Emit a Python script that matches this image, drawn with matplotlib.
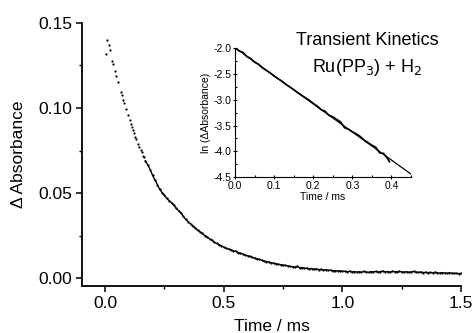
import matplotlib
matplotlib.use("Agg")
import matplotlib.pyplot as plt
from matplotlib.ticker import MultipleLocator

plt.rcParams['font.family'] = ['Liberation Sans', 'DejaVu Sans']

# ---- main trace: early discrete points (time in ms, delta absorbance)
t_early = [0.004, 0.010, 0.017, 0.022, 0.031, 0.034, 0.042, 0.048, 0.056, 0.066,
           0.070, 0.075, 0.080, 0.088, 0.097, 0.104, 0.108, 0.113, 0.118, 0.123,
           0.128, 0.132, 0.138, 0.144, 0.150, 0.154, 0.160, 0.163]
a_early = [0.132, 0.140, 0.137, 0.134, 0.1276, 0.126, 0.122, 0.119, 0.115, 0.1096,
           0.1076, 0.105, 0.1027, 0.0992, 0.0959, 0.093, 0.0905, 0.0886, 0.087, 0.0851,
           0.083, 0.0816, 0.079, 0.0772, 0.0755, 0.0743, 0.0718, 0.0714]

# ---- main trace: later part, readings every 0.01 ms from 0.17 to 1.50
t_late = [round(0.17 + 0.01 * i, 2) for i in range(134)]
a_late = [0.0690, 0.0665, 0.0638, 0.0605, 0.0578, 0.0550, 0.0522, 0.0503, 0.0487, 0.0468,
          0.0455, 0.0442, 0.0428, 0.0410, 0.0396, 0.0383, 0.0362, 0.0345, 0.0332, 0.0318,
          0.0304, 0.0296, 0.0281, 0.0272, 0.0263, 0.0250, 0.0242, 0.0230, 0.0224, 0.0210,
          0.0204, 0.0196, 0.0190, 0.0181, 0.0176, 0.0170, 0.0167, 0.0160, 0.0158, 0.0150,
          0.0146, 0.0140, 0.0136, 0.0131, 0.0127, 0.0121, 0.0118, 0.0112, 0.0110, 0.0105,
          0.0100, 0.0097, 0.0094, 0.0090, 0.0087, 0.0084, 0.0081, 0.0079, 0.0076, 0.0074,
          0.0072, 0.0068, 0.0067, 0.0064, 0.0069, 0.0060, 0.0062, 0.0057, 0.0058, 0.0054,
          0.0056, 0.0052, 0.0054, 0.0050, 0.0051, 0.0047, 0.0049, 0.0045, 0.0046, 0.0043,
          0.0044, 0.0041, 0.0043, 0.0039, 0.0040, 0.0037, 0.0040, 0.0036, 0.0038, 0.0035,
          0.0037, 0.0034, 0.0039, 0.0036, 0.0033, 0.0038, 0.0036, 0.0039, 0.0035, 0.0038,
          0.0041, 0.0036, 0.0038, 0.0035, 0.0040, 0.0037, 0.0036, 0.0039, 0.0036, 0.0035,
          0.0037, 0.0034, 0.0036, 0.0039, 0.0035, 0.0033, 0.0036, 0.0032, 0.0034, 0.0031,
          0.0033, 0.0030, 0.0034, 0.0031, 0.0029, 0.0032, 0.0030, 0.0028, 0.0031, 0.0029,
          0.0027, 0.0028, 0.0026, 0.0028]

# ---- inset: ln(delta absorbance) vs time, and the linear fit
t_ln = [0.00, 0.01, 0.02, 0.03, 0.04, 0.05, 0.06, 0.07, 0.08, 0.09,
        0.10, 0.11, 0.12, 0.13, 0.14, 0.15, 0.16, 0.17, 0.18, 0.19,
        0.20, 0.21, 0.22, 0.23, 0.24, 0.25, 0.26, 0.27, 0.28, 0.29,
        0.30, 0.31, 0.32, 0.33, 0.34, 0.35, 0.36, 0.37, 0.38, 0.39, 0.395]
ln_a = [-1.99, -2.05, -2.08, -2.16, -2.20, -2.27, -2.31, -2.38, -2.43, -2.48,
        -2.54, -2.59, -2.64, -2.70, -2.75, -2.80, -2.86, -2.91, -2.96, -3.01,
        -3.07, -3.12, -3.19, -3.22, -3.30, -3.33, -3.38, -3.43, -3.54, -3.57,
        -3.62, -3.66, -3.71, -3.78, -3.83, -3.88, -3.92, -4.03, -4.04, -4.14, -4.20]
fit_t = [0.0, 0.45]
fit_ln = [-1.99, -4.44]

main_xticks = [0.0, 0.5, 1.0, 1.5]
main_yticks = [0.00, 0.05, 0.10, 0.15]
inset_xticks = [0.0, 0.1, 0.2, 0.3, 0.4]
inset_yticks = [-2.0, -2.5, -3.0, -3.5, -4.0, -4.5]

fig = plt.figure(figsize=(4.74, 3.33), dpi=100)
ax = fig.add_axes([0.173, 0.141, 0.800, 0.790])
ax.plot(t_early, a_early, 'o', color='black', markersize=1.6, markeredgewidth=0)
ax.plot(t_late, a_late, '-', color='black', linewidth=1.0)
ax.plot(t_late, a_late, 'o', color='black', markersize=1.6, markeredgewidth=0)
ax.set_xlim(-0.097, 1.5)
ax.set_ylim(-0.0047, 0.15)
ax.set_xticks(main_xticks)
ax.set_xticklabels([f"{v:.1f}" for v in main_xticks])
ax.set_yticks(main_yticks)
ax.set_yticklabels([f"{v:.2f}" for v in main_yticks])
ax.xaxis.set_minor_locator(MultipleLocator(0.25))
ax.yaxis.set_minor_locator(MultipleLocator(0.025))
for s in ['top', 'right']:
    ax.spines[s].set_visible(False)
for s in ['left', 'bottom']:
    ax.spines[s].set_linewidth(1.3)
ax.tick_params(which='major', direction='out', length=4, width=1.1, labelsize=12.5, pad=3)
ax.tick_params(which='minor', direction='out', length=2.5, width=1.0)
ax.set_xlabel("Time / ms", fontsize=12.5, labelpad=6)
ax.set_ylabel("\u0394 Absorbance", fontsize=12.5, labelpad=9)

ins = fig.add_axes([0.496, 0.468, 0.371, 0.387])
ins.plot(t_ln, ln_a, '-', color='black', linewidth=1.2)
ins.plot(fit_t, fit_ln, '-', color='black', linewidth=0.9)
ins.set_xlim(0.0, 0.45)
ins.set_ylim(-4.5, -2.0)
ins.set_xticks(inset_xticks)
ins.set_xticklabels([f"{v:.1f}" for v in inset_xticks])
ins.set_yticks(inset_yticks)
ins.set_yticklabels([f"{v:.1f}" for v in inset_yticks])
ins.xaxis.set_minor_locator(MultipleLocator(0.05))
ins.yaxis.set_minor_locator(MultipleLocator(0.25))
for s in ['top', 'right']:
    ins.spines[s].set_visible(False)
ins.patch.set_alpha(0)
ins.tick_params(which='major', direction='inout', length=3, width=0.8, labelsize=7.5, pad=1)
ins.tick_params(which='minor', direction='in', length=1.5, width=0.8)
ins.set_xlabel("Time / ms", fontsize=7.5, labelpad=1)
ins.set_ylabel("ln (\u0394Absorbance)", fontsize=7.5, labelpad=2)

fig.text(0.774, 0.878, "Transient Kinetics", fontsize=13, ha='center', va='center')
fig.text(0.774, 0.797, "Ru(PP$_3$) + H$_2$", fontsize=13, ha='center', va='center')

fig.savefig("out.png", dpi=100)
